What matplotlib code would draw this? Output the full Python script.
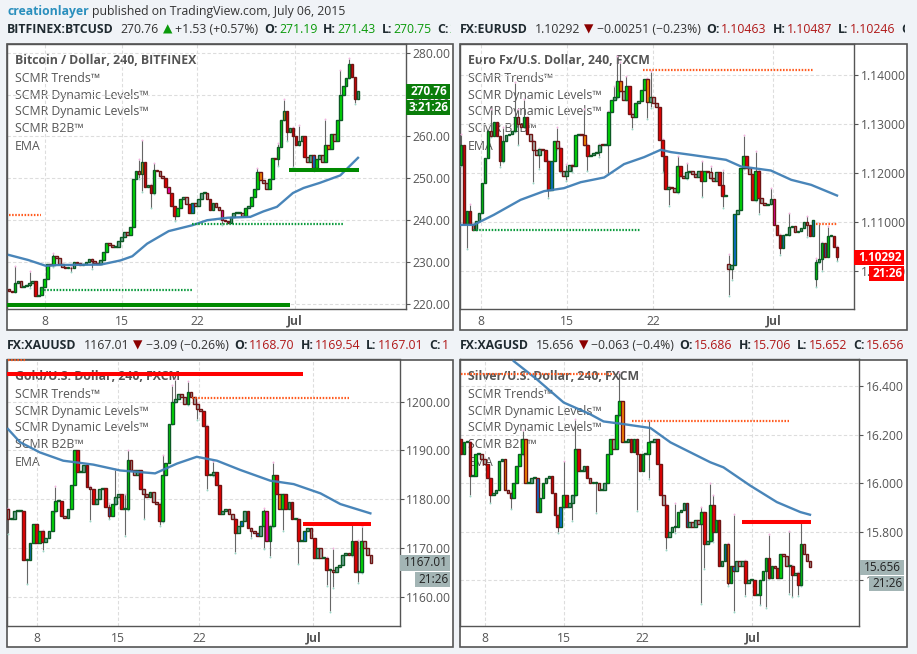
import matplotlib
matplotlib.use("Agg")
import matplotlib.pyplot as plt
from matplotlib.patches import Rectangle

plt.rcParams['font.family'] = ['Open Sans', 'DejaVu Sans']

W, H = 917, 654
BG = '#f0f3f7'
GREY = '#555555'

# ---- BTC ----
btc_close = [223.2, 222.8, 225, 225.5, 224, 224.2, 224.5, 225, 225.5, 222,
             222.2, 224, 226, 229.5, 229.3, 231.5, 231, 229.5, 228.8, 228.6,
             228.7, 228.5, 230, 229.7, 229.4, 229.5, 230, 230.8, 230.3, 229.8,
             229.5, 230.5, 232.5, 234.5, 234.2, 233.6, 233.6, 235, 236, 237.2,
             236.5, 238.5, 249.8, 251.8, 251, 254, 248, 248.5, 246.5, 252,
             251.8, 250.5, 250, 248, 246.5, 243.5, 241, 243, 245, 245.5,
             243.8, 241.8, 244, 243.5, 245, 246.5, 246.5, 245, 242.5, 244,
             243.2, 242.5, 240, 239.8, 239.4, 240.8, 241.8, 241.8, 241.8, 241,
             243, 243.5, 245.5, 247.5, 251.5, 249.5, 249, 247.5, 249.8, 254.8,
             254.6, 257.5, 264, 266, 261, 262, 260, 258, 259, 260,
             255, 254, 255.5, 252.5, 254.5, 255.5, 254, 258, 257, 260.5,
             259, 264, 270, 272, 274, 277.4, 274.3, 269, 270.76]
btc_open0 = 223.6
btc_wick_i = [2, 7, 15, 21, 28, 44, 45, 48, 49, 56, 72, 84, 91, 93, 94, 96, 98, 103, 107, 112, 115, 117]
btc_wick_lo = [223, 224, 229, 227.7, 228.5, 250, 247, 243, 246.5, 240, 239, 247.5, 253, 264, 259, 252.8, 258, 252, 257, 270, 274, 267.9]
btc_wick_hi = [229, 227.7, 232, 229, 230.5, 254.4, 259.1, 248.5, 253.6, 243, 240, 252.4, 258.2, 268.8, 265, 262, 262.5, 255.5, 264, 275.8, 278.6, 271]
btc_blue = [10, 62, 74, 103]
btc_orange = [45, 85, 93, 108]
btc_magenta = [54, 72]
btc_ema_i = [0, 6.5, 12.5, 16.4, 31, 37.7, 41.7, 46.7, 54, 62, 67, 74, 81.6, 86, 90.6, 96, 99.6, 105, 112, 118]
btc_ema = [231.7, 230.5, 229.1, 229.3, 229.4, 230.4, 231.4, 234.4, 237.4, 238.8,
           240, 240.6, 240.8, 242.1, 243.2, 246.5, 247.7, 248.9, 250.7, 254.9]

# ---- EUR ----
eur_close = [1.1257, 1.1097, 1.1123, 1.1097, 1.1085, 1.1103, 1.1118, 1.1180, 1.1230, 1.1285,
             1.1275, 1.1305, 1.1275, 1.1225, 1.1265, 1.1278, 1.1280, 1.1285, 1.1315, 1.1300,
             1.1295, 1.1315, 1.1280, 1.1265, 1.1248, 1.1237, 1.1250, 1.1248, 1.1225, 1.1165,
             1.1225, 1.1265, 1.1251, 1.1205, 1.1195, 1.1205, 1.1217, 1.1215, 1.1278, 1.1280,
             1.1278, 1.1258, 1.1235, 1.1238, 1.1242, 1.1243, 1.1258, 1.1257, 1.1258, 1.1325,
             1.1350, 1.1355, 1.1388, 1.1368, 1.1350, 1.1378, 1.1320, 1.1315, 1.1342, 1.1348,
             1.1370, 1.1392, 1.1345, 1.1355, 1.1343, 1.1335, 1.1268, 1.1235, 1.1168, 1.1172,
             1.1170, 1.1162, 1.1215, 1.1195, 1.1190, 1.1203, 1.1205, 1.1198, 1.1192, 1.1205,
             1.1185, 1.1205, 1.1203, 1.1190, 1.1185, 1.1203, 1.1175, 1.1153, 1.1155, 1.1005,
             1.1012, 1.1117, 1.1125, 1.1210, 1.1235, 1.1210, 1.1198, 1.1145, 1.1205, 1.1150,
             1.1140, 1.1135, 1.1138, 1.1148, 1.1095, 1.1075, 1.1048, 1.1075, 1.1075, 1.1090,
             1.1092, 1.1080, 1.1083, 1.1088, 1.1100, 1.1095, 1.1072, 1.1105, 1.1018, 1.1025,
             1.1058, 1.1030, 1.1072, 1.1072, 1.1050, 1.10292]
eur_open0 = 1.1217
eur_gap_i = [89, 118]
eur_gap_open = [1.1015, 1.0985]
eur_wick_i = [0, 2, 3, 10, 13, 14, 18, 19, 21, 24, 26, 29, 32, 33, 35, 37, 41, 42, 46, 49, 51, 52, 53, 55, 57, 62, 63, 67, 69,
              72, 75, 80, 83, 87, 89, 90, 94, 98, 99, 103, 106, 109, 115, 118, 119, 120, 122, 125]
eur_wick_lo = [1.1217, 1.1047, 1.1097, 1.1275, 1.1214, 1.1225, 1.1285, 1.1258, 1.1295, 1.1181, 1.121, 1.1151, 1.1251, 1.1203, 1.1186, 1.1203, 1.1258, 1.1205, 1.1234, 1.12, 1.1350, 1.1355, 1.1368, 1.1350, 1.1292, 1.1312, 1.1335, 1.1203, 1.1135,
               1.1162, 1.1190, 1.1152, 1.1190, 1.1131, 1.0952, 1.0984, 1.1210, 1.1145, 1.1118, 1.1138, 1.1035, 1.1075, 1.1072, 1.0969, 1.1018, 1.1003, 1.1058, 1.1022]
eur_wick_hi = [1.1278, 1.1097, 1.1135, 1.1329, 1.1275, 1.1292, 1.1384, 1.133, 1.1350, 1.1265, 1.1250, 1.1225, 1.1292, 1.1251, 1.1217, 1.1217, 1.1329, 1.1258, 1.1258, 1.1325, 1.1377, 1.1438, 1.1424, 1.1397, 1.1320, 1.1392, 1.1407, 1.1268, 1.1172,
               1.1234, 1.1220, 1.1224, 1.1213, 1.1204, 1.1034, 1.1012, 1.1276, 1.1244, 1.1205, 1.1169, 1.1075, 1.1118, 1.1112, 1.1025, 1.1097, 1.1058, 1.1091, 1.1050]
eur_blue = [30, 91, 107, 117, 121]
eur_orange = [41, 53, 62]
eur_magenta = [104]
eur_ema_i = [0, 4.2, 10.9, 19.8, 27.6, 34.2, 39.8, 47.6, 54.2, 60.9, 66.4, 69.8, 76.4, 84.2, 88.1, 93.1, 103, 109.8, 116.4, 125]
eur_ema = [1.10946, 1.10946, 1.1115, 1.11456, 1.11633, 1.11694, 1.11816, 1.11912, 1.12184, 1.12327,
           1.12476, 1.12429, 1.12374, 1.12306, 1.12272, 1.12136, 1.12054, 1.11864, 1.11762, 1.11544]

# ---- XAU ----
xau_close = [1176, 1176, 1177.5, 1177.5, 1177.5, 1167.5, 1167.6, 1171, 1175, 1171,
             1173.5, 1171.2, 1172, 1173.5, 1177.5, 1179.7, 1179.7, 1176.5, 1176.2, 1178,
             1183, 1190, 1185.5, 1185.5, 1187, 1182.5, 1182, 1179, 1180, 1182,
             1182.2, 1178.5, 1176.5, 1179, 1180.5, 1181, 1178, 1178, 1188, 1186,
             1185, 1186, 1182, 1181, 1180.5, 1181.5, 1179.5, 1179, 1175.5, 1185,
             1187.5, 1195.5, 1200, 1200.5, 1201.5, 1201, 1199.5, 1202, 1201, 1199.5,
             1198.5, 1198, 1195, 1185, 1185, 1185.5, 1183, 1177, 1177.5, 1178,
             1177, 1176, 1173, 1174.5, 1175.5, 1177.5, 1174, 1173.5, 1173, 1172.5,
             1174.5, 1177.5, 1171.5, 1174.5, 1185, 1181, 1178, 1181, 1178, 1179.5,
             1176, 1176, 1171.5, 1171.5, 1173.5, 1174, 1172, 1168, 1170, 1168,
             1168, 1165.5, 1165.5, 1165, 1166, 1166.5, 1168.5, 1169, 1168.5, 1171.5,
             1165, 1165, 1171.5, 1170, 1168.5, 1167.01]
xau_open0 = 1178
xau_wick_i = [0, 6, 11, 15, 26, 32, 34, 37, 38, 43, 48, 49, 52, 53, 57, 60, 63, 65, 72, 77, 81, 83, 84, 87, 92, 101, 102, 103, 109, 111, 112]
xau_wick_lo = [1173, 1162.7, 1169.5, 1177.5, 1175.7, 1176, 1179, 1172.6, 1178, 1176, 1174.7, 1175.5, 1195.5, 1200, 1199.5, 1196.5, 1182, 1185, 1169.2, 1172.3, 1170, 1168.3, 1174.5, 1173.6, 1166.8, 1162.4, 1157, 1162, 1168.5, 1163, 1165]
xau_wick_hi = [1178, 1167.6, 1173.5, 1182.5, 1182.5, 1179, 1186, 1181, 1190, 1182, 1179, 1189, 1203.3, 1204.4, 1204, 1199.5, 1195, 1187.6, 1176, 1174, 1178, 1174.5, 1187.5, 1181, 1176, 1168, 1165.5, 1169.8, 1174.7, 1171.5, 1174.3]
xau_blue = [7, 32, 74, 79, 94]
xau_orange = [16, 86]
xau_magenta = [82]
xau_ema_i = [0, 3.8, 10.1, 17.5, 27, 35.5, 46.6, 53.5, 59.8, 66.2, 73.6, 83.1, 90.5, 99, 105.3, 114.8]
xau_ema = [1194.4, 1191.7, 1189.6, 1187.9, 1187.1, 1185.9, 1185.3, 1187.3, 1188.7, 1187.9,
           1186, 1183.8, 1183.1, 1181.2, 1179, 1177.1]

# ---- XAG ----
xag_close = [16.12, 16.17, 16.17, 16.03, 16.03, 16.12, 16.12, 16.10, 16.08, 16.02,
             15.95, 15.96, 15.97, 16.09, 16.10, 15.97, 15.96, 15.94, 16.00, 16.07,
             16.12, 16.18, 16.00, 16.00, 16.02, 16.02, 15.88, 15.94, 16.00, 16.02,
             16.03, 15.96, 15.87, 15.82, 15.90, 15.95, 15.90, 15.92, 15.95, 16.14,
             16.05, 16.05, 16.07, 16.02, 16.00, 16.00, 16.00, 15.97, 15.97, 16.00,
             16.12, 16.18, 16.14, 16.28, 16.34, 16.17, 16.17, 16.18, 16.13, 16.18,
             16.12, 16.05, 16.12, 16.12, 16.17, 16.17, 16.18, 16.08, 15.95, 15.91,
             15.78, 15.80, 15.82, 15.82, 15.88, 15.89, 15.92, 15.82, 15.84, 15.82,
             15.85, 15.83, 15.88, 15.75, 15.76, 15.91, 15.80, 15.85, 15.66, 15.68,
             15.75, 15.59, 15.66, 15.64, 15.68, 15.66, 15.68, 15.59, 15.60, 15.60,
             15.54, 15.54, 15.60, 15.64, 15.69, 15.61, 15.66, 15.65, 15.61, 15.71,
             15.70, 15.66, 15.66, 15.62, 15.63, 15.58, 15.75, 15.71, 15.68, 15.656]
xag_open0 = 16.18
xag_wick_i = [3, 10, 17, 21, 33, 35, 38, 39, 46, 54, 60, 64, 70, 73, 82, 83, 85, 86, 91, 93, 97, 102, 104, 105, 112, 113, 115, 116]
xag_wick_lo = [15.95, 15.92, 15.895, 16.12, 15.80, 15.90, 15.847, 15.95, 15.88, 16.28, 15.888, 16.02, 15.73, 15.80, 15.506, 15.65, 15.76, 15.76, 15.58, 15.472, 15.54, 15.5, 15.49, 15.61, 15.547, 15.533, 15.54, 15.58]
xag_wick_hi = [16.17, 16.02, 15.96, 16.216, 15.87, 16.09, 15.95, 16.26, 16.00, 16.455, 16.18, 16.257, 15.91, 15.915, 15.90, 15.88, 15.997, 15.95, 15.75, 15.87, 15.68, 15.60, 15.69, 15.786, 15.80, 15.66, 15.63, 15.836]
xag_blue = [6, 14, 17, 26, 34, 77, 90, 93]
xag_orange = [15, 22, 55, 91]
xag_magenta = []
xag_ema_i = [18, 25.9, 35, 44, 48.6, 55.5, 64.6, 71.4, 78.2, 85, 89.5, 98.6, 107.7, 115.7, 119]
xag_ema = [16.502, 16.427, 16.332, 16.284, 16.254, 16.243, 16.227, 16.168, 16.127, 16.086,
           16.065, 15.99, 15.922, 15.881, 15.87]

legend_lines = ['SCMR Trends™', 'SCMR Dynamic Levels™', 'SCMR Dynamic Levels™', 'SCMR B2B™', 'EMA']
x_labels = ['8', '15', '22', 'Jul']

fig = plt.figure(figsize=(W / 100, H / 100), dpi=100, facecolor=BG)


def px_axes(l, t, r, b, z):
    return fig.add_axes([l / W, 1 - b / H, (r - l) / W, (b - t) / H], zorder=z)


back = px_axes(0, 0, W, H, 0)
back.set_xlim(0, W)
back.set_ylim(H, 0)
back.axis('off')
over = px_axes(0, 0, W, H, 10)
over.set_xlim(0, W)
over.set_ylim(H, 0)
over.axis('off')
over.patch.set_alpha(0)


def level(ax, x0, x1, y, color, thick=False):
    if thick:
        ax.plot([x0, x1], [y, y], color=color, lw=2.9, zorder=5, solid_capstyle='butt')
    else:
        ax.plot([x0, x1], [y, y], color=color, lw=1.6, ls=(0, (0.7, 0.7)), zorder=5)


def panel(box, right, bottom, title, closes, open0, gap_i, gap_open, wick_i, wick_lo, wick_hi,
          blue, orange, magenta, ema_i, ema, first_px, last_px, tick_px, ylim, yticks, fmt, big):
    back.add_patch(Rectangle((box[0], box[1]), box[2] - box[0], box[3] - box[1], fc='white', ec=GREY, lw=1.2))
    ax = px_axes(box[0], box[1], right, bottom, 5)
    ax.patch.set_alpha(0)
    step = (last_px - first_px) / (len(closes) - 1)
    ax.set_xlim((box[0] - first_px) / step, (right - first_px) / step)
    ax.set_ylim(*ylim)
    ax.set_xticks([(p - first_px) / step for p in tick_px])
    ax.set_xticklabels(x_labels)
    ax.get_xticklabels()[3].set_fontweight('bold')
    ax.set_yticks(yticks)
    ax.set_yticklabels([fmt % v for v in yticks])
    ax.yaxis.tick_right()
    ax.tick_params(axis='y', length=3, width=0.8, color=GREY, labelcolor=GREY, labelsize=8.7, pad=2)
    ax.tick_params(axis='x', length=0, labelcolor=GREY, labelsize=8.7, pad=4)
    ax.grid(True, color='#dddddd', ls=(0, (3, 2)), lw=0.8, zorder=0)
    ax.set_axisbelow(True)
    for s in ax.spines.values():
        s.set_color(GREY)
        s.set_linewidth(1.0)

    # legend text sits below the candles
    tx = box[0] + 8.5
    back.text(tx, box[1] + 17, title, fontsize=8.8, fontweight='bold', color=GREY, va='center', zorder=3)
    for k, line in enumerate(legend_lines):
        back.text(tx, box[1] + 34.5 + 17 * k, line, fontsize=8.8, color=GREY, va='center', zorder=3)

    ax.vlines(wick_i, wick_lo, wick_hi, color='#666666', lw=0.8, zorder=3)
    ax.scatter(wick_i, [v + big * 0.08 for v in wick_hi], s=2, color='#f3b4e0', lw=0, zorder=3)
    ax.scatter(wick_i, [v - big * 0.08 for v in wick_lo], s=2, color='#9fd8c8', lw=0, zorder=3)

    prev = open0
    for i, c in enumerate(closes):
        o = gap_open[gap_i.index(i)] if i in gap_i else prev
        up = c >= o
        large = abs(c - o) > big
        edge = '#0c5a24' if up else '#6e1414'
        if up:
            fill = '#00e400' if large else '#6fa596'
        else:
            fill = '#f00000' if large else '#aab5b0'
        if i in blue:
            fill = '#0a6fd8'
        elif i in orange:
            fill = '#ff8c00'
        elif i in magenta:
            fill = '#ff00c8'
        lo, hi = min(o, c), max(o, c)
        ax.bar(i, max(hi - lo, big * 0.1), bottom=lo, width=0.88, color=fill, edgecolor=edge, lw=1.0, zorder=4)
        prev = c

    ax.plot(ema_i, ema, color='#3f7fb5', lw=1.7, zorder=4.5, alpha=0.95)
    return ax


def tag(l, t, r, b, text, fc, tc, weight):
    over.add_patch(Rectangle((l, t), r - l, b - t, fc=fc, ec='none'))
    over.text((l + r) / 2 + 1, (t + b) / 2, text, color=tc, fontsize=8.5, fontweight=weight, ha='center', va='center')


def header(x, y, parts, clip_r):
    rend = fig.canvas.get_renderer()
    clip = Rectangle((x - 2, y - 12), clip_r - x + 2, 24, transform=over.transData)
    for s, col, weight, gap in parts:
        t = over.text(x, y, s, color=col, fontweight=weight, fontsize=8.8, va='center', ha='left')
        t.set_clip_path(clip)
        t.set_clip_on(True)
        x += t.get_window_extent(rend).width + gap


def quote(sym, price, arrow, arrow_col, chg, col, ohlc):
    parts = [(sym, '#1f2a30', 'bold', 7), (price, '#333333', 'normal', 4), (arrow, arrow_col, 'normal', 3),
             (chg, '#333333', 'normal', 6)]
    for lab, val in ohlc:
        parts.append((lab, '#1f2a30', 'bold', 1))
        parts.append((val, col, 'normal', 6))
    return parts


ax1 = panel((6.5, 43.5, 452.5, 330), 405.5, 309, 'Bitcoin / Dollar, 240, BITFINEX', btc_close, btc_open0, [], [],
            btc_wick_i, btc_wick_lo, btc_wick_hi, btc_blue, btc_orange, btc_magenta, btc_ema_i, btc_ema,
            9, 358, [45, 121.7, 197, 295], (218.8, 282.2), [220, 230, 240, 250, 260, 270, 280], '%.2f', 1.8)
level(ax1, -1, 95, 219.8, '#008a00', True)
level(ax1, 10.8, 62, 223.3, '#0a9a3c')
level(ax1, 0, 10.8, 241.2, '#ff5a1e')
level(ax1, 62, 113, 239, '#0a9a3c')
level(ax1, 94.6, 118.3, 252.1, '#008a00', True)

ax2 = panel((459.5, 43.5, 906.5, 330), 853.7, 309, 'Euro Fx/U.S. Dollar, 240, FXCM', eur_close, eur_open0,
            eur_gap_i, eur_gap_open, eur_wick_i, eur_wick_lo, eur_wick_hi, eur_blue, eur_orange, eur_magenta,
            eur_ema_i, eur_ema, 461, 837, [481, 567.3, 653.3, 773.3], (1.09232, 1.14642),
            [1.10, 1.11, 1.12, 1.13, 1.14], '%.5f', 0.002)
level(ax2, 60.6, 117.3, 1.1410, '#ff5a1e')
level(ax2, 4, 60, 1.10837, '#0a9a3c')
level(ax2, 118, 125, 1.1096, '#ff5a1e')

ax3 = panel((6.5, 359.5, 452.5, 647), 399.5, 626, 'Gold/U.S. Dollar, 240, FXCM', xau_close, xau_open0, [], [],
            xau_wick_i, xau_wick_lo, xau_wick_hi, xau_blue, xau_orange, xau_magenta, xau_ema_i, xau_ema,
            8, 371, [37, 118.3, 199.3, 313.3], (1153.99, 1208.66), [1160, 1170, 1180, 1190, 1200], '%.2f', 2.0)
level(ax3, -1, 93.4, 1205.7, '#ff0000', True)
level(ax3, 58.2, 108, 1200.8, '#ff5a1e')
level(ax3, 93.4, 115, 1175, '#ff0000', True)
level(ax3, 0, 5.7, 1208.5, '#ff5a1e')

ax4 = panel((459.5, 359.5, 906.5, 647), 859.5, 626, 'Silver/U.S. Dollar, 240, FXCM', xag_close, xag_open0, [], [],
            xag_wick_i, xag_wick_lo, xag_wick_hi, xag_blue, xag_orange, xag_magenta, xag_ema_i, xag_ema,
            461, 810, [485.3, 564.3, 642.3, 752.3], (15.412, 16.509), [15.6, 15.8, 16.0, 16.2, 16.4], '%.3f', 0.04)
level(ax4, 0, 52, 16.448, '#ff5a1e')
level(ax4, 58.3, 112, 16.255, '#ff5a1e')
level(ax4, 95.8, 119.3, 15.84, '#ff0000', True)

# price and countdown tags
tag(405.5, 83.5, 450, 99, '270.76', '#0a7d0a', 'white', 'bold')
tag(405.5, 100, 450, 115, '3:21:26', '#0a7d0a', 'white', 'bold')
tag(853.7, 249.5, 904, 265, '1.10292', '#ff0000', 'white', 'bold')
tag(869, 266, 904, 281, '21:26', '#ff0000', 'white', 'bold')
tag(399.5, 555, 450, 571, '1167.01', '#a3b5b5', '#222222', 'normal')
tag(415, 572, 450, 586.5, '21:26', '#a3b5b5', '#222222', 'normal')
tag(859.5, 559.5, 904, 575, '15.656', '#a3b5b5', '#222222', 'normal')
tag(869, 576, 904, 590.5, '21:26', '#a3b5b5', '#222222', 'normal')

# header rows; the last value is cut by the panel edge in the original
header(7, 11.5, [('creationlayer', '#2a8fbd', 'bold', 3),
                 ('published on TradingView.com, July 06, 2015', '#333333', 'normal', 0)], 452)
header(7, 29.5, quote('BITFINEX:BTCUSD', '270.76', '▲', '#0a9a0a', '+1.53 (+0.57%)', '#0a9a0a',
                      [('O:', '271.19'), ('H:', '271.43'), ('L:', '270.75'), ('C:', '2')]), 451)
header(460, 29.5, quote('FX:EURUSD', '1.10292', '▼', '#8b0000', '−0.00251 (−0.23%)', '#b01818',
                        [('O:', '1.10463'), ('H:', '1.10487'), ('L:', '1.10246'), ('C', '')]), 905)
header(7, 345.5, quote('FX:XAUUSD', '1167.01', '▼', '#8b0000', '−3.09 (−0.26%)', '#b01818',
                       [('O:', '1168.70'), ('H:', '1169.54'), ('L:', '1167.01'), ('C:', '1')]), 451)
header(460, 345.5, quote('FX:XAGUSD', '15.656', '▼', '#8b0000', '−0.063 (−0.4%)', '#b01818',
                         [('O:', '15.686'), ('H:', '15.706'), ('L:', '15.652'), ('C:', '15.656')]), 905)

fig.savefig('out.png', dpi=100, facecolor=BG)
